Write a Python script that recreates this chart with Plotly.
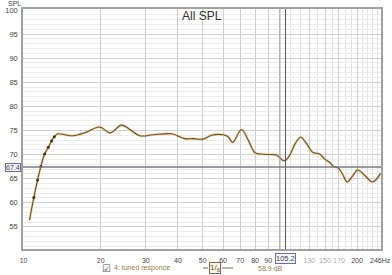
import numpy as np
import plotly.graph_objects as go

# ---- data ----
freq_hz = [10.55, 10.97, 11.34, 11.68, 12.08, 12.49, 12.86, 13.18, 13.6, 14.5, 15.6, 17.5,
           19.8, 21.8, 24.1, 26.0, 28.4, 32.0, 37.8, 42.6, 45.9, 50.2, 54.1, 60.0, 62.8,
           65.4, 70.8, 75.2, 79.9, 84.0, 90.0, 94.0, 97.0, 104.0, 109.4, 114.0, 120.5,
           127.0, 134.0, 143.0, 150.0, 157.0, 162.0, 169.0, 176.0, 183.0, 192.0, 201.0,
           215.0, 230.0, 247.0]
spl_db = [56.4, 61.1, 64.7, 67.5, 70.1, 71.5, 72.8, 73.7, 74.3, 74.1, 73.9, 74.6,
          75.7, 74.5, 76.1, 75.2, 73.9, 74.1, 74.3, 73.3, 73.3, 73.2, 74.0, 74.1, 73.7,
          72.5, 75.2, 73.0, 70.4, 70.1, 70.0, 70.0, 69.9, 68.7, 69.9, 72.0, 73.6,
          72.3, 70.5, 70.1, 69.0, 68.3, 67.5, 67.2, 65.8, 64.3, 65.5, 66.8,
          65.6, 64.3, 66.1]
n_marked = 8  # low-frequency points drawn with dots

x_ticks = [10, 20, 30, 40, 50, 60, 70, 80, 90, 130, 150, 170, 200, 246]
x_tick_text = ["10", "20", "30", "40", "50", "60", "70", "80", "90",
               "<span style='color:#aaaaaa'>130</span>",
               "<span style='color:#aaaaaa'>150</span>",
               "<span style='color:#aaaaaa'>170</span>", "200", "246Hz"]
x_minor = list(range(10, 100, 10)) + list(range(100, 250, 10))
y_ticks = [55, 60, 65, 70, 75, 80, 85, 90, 95, 100]

cursor_freq = 105.2
cursor_db = 67.4
ref_grid_freq = 100
legend_name = "4: tuned responce"
smoothing = "1/<sub>6</sub>"
level_text = "58.9 dB"

W, H = 392, 275
L, R, T, B = 23, 11, 9, 26
pw, ph = W - L - R, H - T - B


def px(xp):
    return (xp - L) / pw


def py(yp):
    return (H - B - yp) / ph


FONT = "Liberation Sans, Arial"

fig = go.Figure()
fig.add_trace(go.Scatter(x=freq_hz, y=spl_db, mode="lines",
                         line=dict(color="rgba(230,185,110,0.55)", width=2.6, shape="spline"),
                         hoverinfo="skip", showlegend=False))
fig.add_trace(go.Scatter(x=freq_hz, y=spl_db, mode="lines",
                         line=dict(color="#6e5028", width=1.1, shape="spline"),
                         showlegend=False))
fig.add_trace(go.Scatter(x=freq_hz[1:n_marked], y=spl_db[1:n_marked], mode="markers",
                         marker=dict(color="#4a3318", size=3), showlegend=False))

fig.add_vline(x=ref_grid_freq, line=dict(color="#9a9a9a", width=1))
fig.add_vline(x=cursor_freq, line=dict(color="#555560", width=1))
fig.add_hline(y=cursor_db, line=dict(color="#7a7a88", width=1.5))

fig.update_xaxes(type="log", range=[np.log10(9.95), np.log10(248.0)],
                 tickvals=x_ticks, ticktext=x_tick_text, tickangle=0,
                 tickfont=dict(family=FONT, size=7, color="#444"),
                 ticks="", showgrid=True, gridcolor="#cfcfcf", gridwidth=1,
                 minor=dict(tickvals=x_minor, showgrid=True, gridcolor="#e3e3e3", gridwidth=1),
                 showline=True, linecolor="#a0a0a0", linewidth=1.5, mirror=True,
                 zeroline=False, ticklabelstandoff=4, automargin=False,
                 ticklabeloverflow="allow")
fig.update_yaxes(range=[50.4, 100.2], tickvals=y_ticks,
                 tickfont=dict(family=FONT, size=7.5, color="#444"),
                 ticks="", showgrid=True, gridcolor="#d2d2d2", gridwidth=1,
                 minor=dict(dtick=1, showgrid=True, gridcolor="#ececec", gridwidth=1),
                 showline=True, linecolor="#a0a0a0", linewidth=1.5, mirror=True,
                 zeroline=False, ticklabelstandoff=2, automargin=False,
                 ticklabeloverflow="allow")


def note(text, x, y, xref="paper", yref="paper", xanchor="center", size=8, color="#444",
         family=FONT, **kw):
    return dict(text=text, x=x, y=y, xref=xref, yref=yref, xanchor=xanchor, yanchor="middle",
                showarrow=False, font=dict(family=family, size=size, color=color), **kw)


ann = [
    note("All SPL", 0.5, py(16), size=12, color="#333"),
    note("SPL", px(14), py(3), size=7),
    note(f"{cursor_freq}", np.log10(cursor_freq), py(258), xref="x", size=7.5,
         bordercolor="#6b6bb5", borderwidth=1, borderpad=0, bgcolor="#f4f4fb"),
    note(f"{cursor_db}", px(21), cursor_db, yref="y", xanchor="right", size=7,
         bordercolor="#6b6bb5", borderwidth=1, borderpad=0, bgcolor="#f4f4fb"),
    note("☑", px(106), py(268), family="DejaVu Sans", size=10, color="#555"),
    note(legend_name, px(112), py(268), xanchor="left", size=7, color="#9a7a48"),
    note(smoothing, px(215), py(268), size=8, color="#5a4a2a",
         bordercolor="#7a6a4a", borderwidth=1, borderpad=0, bgcolor="#fbf6e8"),
    note(level_text, px(256), py(268), xanchor="left", size=7, color="#9a7a48"),
]
fig.update_layout(annotations=ann)

for x0, x1 in [(203, 208), (222, 233)]:
    fig.add_shape(type="line", xref="paper", yref="paper", x0=px(x0), x1=px(x1),
                  y0=py(268), y1=py(268), line=dict(color="#7a6a4a", width=1))

fig.update_layout(width=W, height=H, margin=dict(l=L, r=R, t=T, b=B, autoexpand=False),
                  paper_bgcolor="white", plot_bgcolor="white", showlegend=False)

fig.write_html("out.html")
